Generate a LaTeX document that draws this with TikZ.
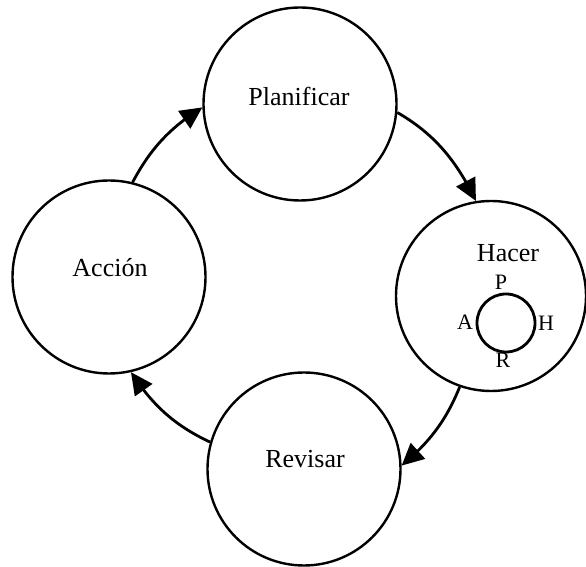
\documentclass[tikz,border=0pt]{standalone}
\usepackage{fontspec}
\setmainfont{Liberation Serif}
\usetikzlibrary{arrows.meta,bending}
\begin{document}
\begin{tikzpicture}[x=1pt,y=1pt,
  stage/.style={circle,draw,line width=2.4pt,minimum size=193pt,inner sep=0pt},
  lbl/.style={font=\fontsize{26}{30}\selectfont},
  small/.style={font=\fontsize{22}{25}\selectfont,inner sep=0pt},
  flow/.style={line width=2.8pt,-{Triangle[length=22pt,width=21pt]},looseness=0.95}]
\useasboundingbox (0,0) rectangle (586,567);
% the four stages of the cycle
\node[stage] (P) at (300,463) {};
\node[stage,minimum size=190pt] (H) at (491,271) {};
\node[stage] (R) at (304,98) {};
\node[stage] (A) at (109,290) {};
\node[lbl] (tP) at (299,471) {Planificar};
\node[lbl] (tH) at (508,314) {Hacer};
\node[lbl] (tR) at (305,108) {Revisar};
\node[lbl] (tA) at (110,299) {Acción};
% small inner cycle inside "Hacer"
\node[circle,draw,line width=2.8pt,minimum size=58pt,inner sep=0pt] (c) at (506,244) {};
\node[small] (sP) at (501,285) {P};
\node[small] (sA) at (465,245) {A};
\node[small] (sH) at (546,244) {H};
\node[small] (sR) at (503,207) {R};
% arrows along the cycle
\draw[flow] (P.-5) to[out=-30,in=116] (H.99);
\draw[flow] (H.251) to[out=-112,in=40] (R.2);
\draw[flow] (R.164) to[out=155,in=-57] (A.-77);
\draw[flow] (A.76) to[out=62,in=212] (P.182);
\end{tikzpicture}
\end{document}
